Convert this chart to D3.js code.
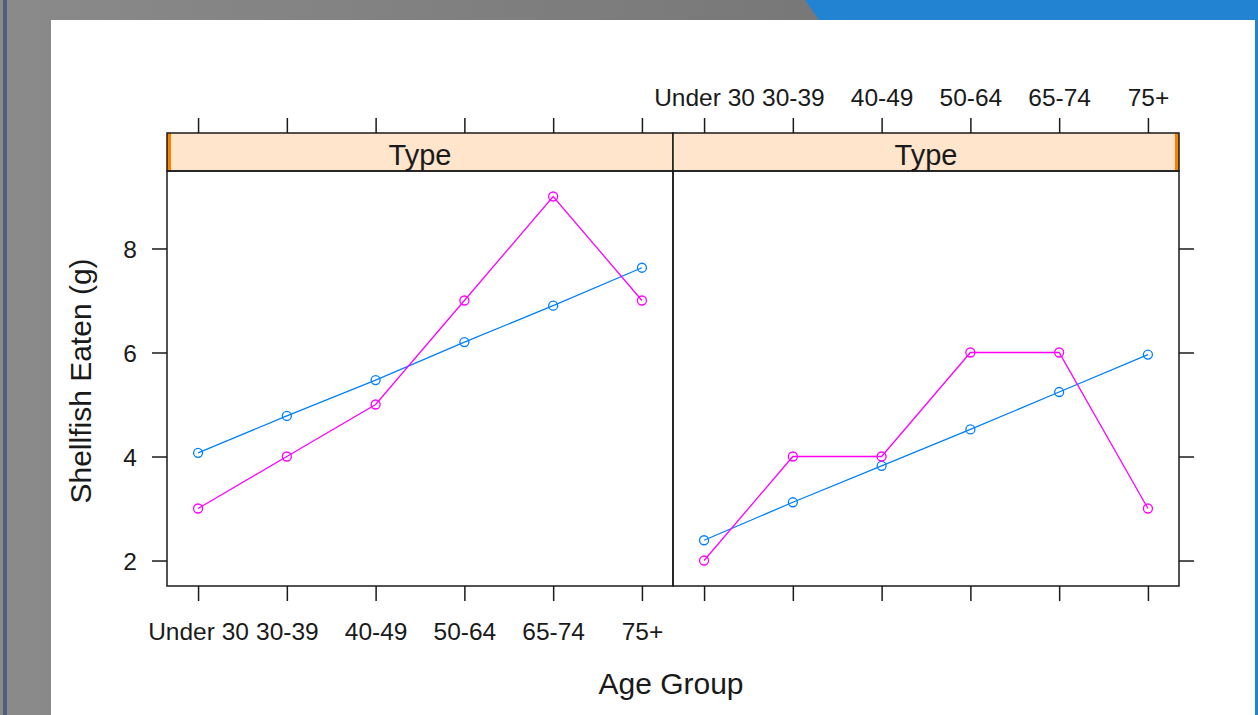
<!DOCTYPE html>
<html>
<head>
<meta charset="utf-8">
<script src="https://cdn.jsdelivr.net/npm/d3@7"></script>
<style>
  body { margin: 0; background: #fff; }
  svg { display: block; font-family: "Liberation Sans", Arial, sans-serif; }
</style>
</head>
<body>
<div id="chart"></div>
<script>

var ageGroups = ["Under 30", "30-39", "40-49", "50-64", "65-74", "75+"]
var panelNames = ["Type", "Type"]
var yTicks = [2, 4, 6, 8]

// left panel
var blueLeft = [4.07, 4.78, 5.47, 6.20, 6.90, 7.63]
var pinkLeft = [3, 4, 5, 7, 9, 7]
// right panel
var blueRight = [2.39, 3.12, 3.82, 4.52, 5.24, 5.96]
var pinkRight = [2, 4, 4, 6, 6, 3]

var blue = "#0080ff"
var pink = "#ff00ff"
var ink = "#1a1a1a"

var W = 1258, H = 715
var panelTop = 171, panelBottom = 586, stripTop = 133
var panelW = 506
var panelX = [167, 673]

var svg = d3.select("#chart").append("svg")
  .attr("width", W)
  .attr("height", H)

// window frame around the plot
var defs = svg.append("defs")
var g1 = defs.append("linearGradient").attr("id", "frameGrad")
g1.append("stop").attr("offset", "0%").attr("stop-color", "#8a8a8a")
g1.append("stop").attr("offset", "100%").attr("stop-color", "#6e6e6e")

svg.append("rect").attr("x", 0).attr("y", 0).attr("width", W).attr("height", H).attr("fill", "url(#frameGrad)")
svg.append("rect").attr("x", 3).attr("y", 0).attr("width", 4).attr("height", H).attr("fill", "#4d5f7c")
svg.append("path")
  .attr("d", "M805,0 L" + W + ",0 L" + W + ",20 L819,20 Z")
  .attr("fill", "#2383d3")
svg.append("rect").attr("x", 1255).attr("y", 20).attr("width", 3).attr("height", H - 20).attr("fill", "#2383d3")
svg.append("rect").attr("x", 51).attr("y", 20).attr("width", 1204).attr("height", H - 20).attr("fill", "#fff")

var y = d3.scaleLinear()
  .domain([1.51, 9.49])
  .range([panelBottom, panelTop])

var series = [
  [blueLeft, pinkLeft],
  [blueRight, pinkRight]
]

panelNames.forEach(function (name, p) {
  var x = d3.scaleLinear()
    .domain([0.65, 6.35])
    .range([panelX[p], panelX[p] + panelW])

  var g = svg.append("g")

  // strip
  g.append("rect")
    .attr("x", panelX[p]).attr("y", stripTop)
    .attr("width", panelW).attr("height", panelTop - stripTop)
    .attr("fill", "#ffe5cc")
  g.append("rect")
    .attr("x", p == 0 ? panelX[p] : panelX[p] + panelW - 4).attr("y", stripTop)
    .attr("width", 4).attr("height", panelTop - stripTop)
    .attr("fill", "#ff7f00")
  g.append("rect")
    .attr("x", panelX[p]).attr("y", stripTop)
    .attr("width", panelW).attr("height", panelTop - stripTop)
    .attr("fill", "none").attr("stroke", ink).attr("stroke-width", 1.5)
  g.append("text")
    .attr("x", panelX[p] + panelW / 2)
    .attr("y", 165)
    .attr("text-anchor", "middle")
    .attr("font-size", 29)
    .attr("fill", ink)
    .text(name)

  // lines + open circles
  var line = d3.line()
    .x(function (d, i) { return x(i + 1) })
    .y(function (d) { return y(d) })

  series[p].forEach(function (vals, s) {
    var col = s == 0 ? blue : pink
    g.append("path")
      .datum(vals)
      .attr("d", line)
      .attr("fill", "none")
      .attr("stroke", col)
      .attr("stroke-width", 1.3)
    g.selectAll(".pt" + s)
      .data(vals)
      .enter().append("circle")
      .attr("cx", function (d, i) { return x(i + 1) })
      .attr("cy", function (d) { return y(d) })
      .attr("r", 4.5)
      .attr("fill", "none")
      .attr("stroke", col)
      .attr("stroke-width", 1.3)
  })

  // panel box
  g.append("rect")
    .attr("x", panelX[p]).attr("y", panelTop)
    .attr("width", panelW).attr("height", panelBottom - panelTop)
    .attr("fill", "none").attr("stroke", ink).attr("stroke-width", 1.5)

  // x ticks top and bottom
  var xAxisB = d3.axisBottom(x).tickValues([1, 2, 3, 4, 5, 6]).tickSize(15)
    .tickFormat(function (d) { return p == 0 ? ageGroups[d - 1] : "" })
  var xAxisT = d3.axisTop(x).tickValues([1, 2, 3, 4, 5, 6]).tickSize(15)
    .tickFormat(function (d) { return p == 1 ? ageGroups[d - 1] : "" })

  var gb = g.append("g").attr("transform", "translate(0," + panelBottom + ")").call(xAxisB)
  var gt = g.append("g").attr("transform", "translate(0," + stripTop + ")").call(xAxisT)
  ;[gb, gt].forEach(function (ax) {
    ax.select(".domain").remove()
    ax.selectAll("line").attr("stroke", ink).attr("stroke-width", 1.5)
    ax.selectAll("text").attr("fill", ink).attr("font-size", 24.5).attr("font-family", "Liberation Sans, Arial, sans-serif")
  })
  gb.selectAll("text").attr("y", 0).attr("dy", 0).attr("transform", "translate(0,54)")
  gt.selectAll("text").attr("y", 0).attr("dy", 0).attr("transform", "translate(0,-27)")
})

// y axes left (labels) and right (ticks only)
var yl = svg.append("g").attr("transform", "translate(" + panelX[0] + ",0)")
  .call(d3.axisLeft(y).tickValues(yTicks).tickSize(15).tickFormat(d3.format("d")))
var yr = svg.append("g").attr("transform", "translate(" + (panelX[1] + panelW) + ",0)")
  .call(d3.axisRight(y).tickValues(yTicks).tickSize(15).tickFormat(""))
;[yl, yr].forEach(function (ax) {
  ax.select(".domain").remove()
  ax.selectAll("line").attr("stroke", ink).attr("stroke-width", 1.5)
  ax.selectAll("text").attr("fill", ink).attr("font-size", 24.5).attr("font-family", "Liberation Sans, Arial, sans-serif")
})
yl.selectAll("text").attr("x", -30).attr("dy", "0.36em")

// axis titles
svg.append("text")
  .attr("transform", "translate(91,381) rotate(-90)")
  .attr("text-anchor", "middle")
  .attr("font-size", 30)
  .attr("fill", ink)
  .text("Shellfish Eaten (g)")

svg.append("text")
  .attr("x", 671)
  .attr("y", 694)
  .attr("text-anchor", "middle")
  .attr("font-size", 30)
  .attr("fill", ink)
  .text("Age Group")

</script>
</body>
</html>
